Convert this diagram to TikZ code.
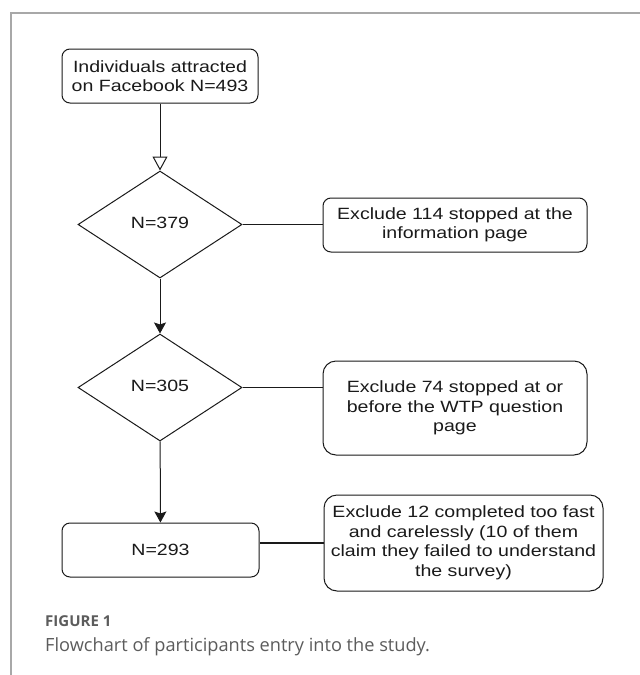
\documentclass[tikz,border=0pt]{standalone}
\usepackage{fontspec}
\usepackage{tikz}
\usetikzlibrary{shapes.geometric,arrows.meta}
\newfontfamily\chartfont[FakeStretch=1.2]{Liberation Sans}
\newfontfamily\capfont{Open Sans}
\definecolor{framegray}{HTML}{A8A8A8}
\definecolor{capgray}{HTML}{5C5C5C}
\definecolor{ink}{HTML}{1A1A1A}

\begin{document}
\begin{tikzpicture}[x=1pt,y=-1pt,
  box/.style={draw=ink,line width=1pt,rounded corners=8pt,align=center,inner sep=0pt,text=ink,
    font=\chartfont\fontsize{16.3}{19.5}\selectfont},
  bigbox/.style={box,rounded corners=13pt},
  test/.style={draw=ink,line width=1pt,diamond,inner sep=0pt,text=ink,
    minimum width=164pt,minimum height=107pt,font=\chartfont\fontsize{16.3}{19.5}\selectfont},
  link/.style={draw=ink,line width=1.8pt},
  flow/.style={draw=ink,line width=1pt,-{Stealth[width=12pt,length=11pt,inset=2pt]}}]

\useasboundingbox[fill=white] (0,0) rectangle (640,675);
\draw[framegray,line width=1.2pt] (640,13) -- (11,13) -- (11,675);

% main column
\node[box,minimum width=196pt,minimum height=54pt] (start) at (160,76) {Individuals attracted\\on Facebook N=493};
\node[test] (check1) at (160,224.5) {\raisebox{3.5pt}{N=379}};
\node[test] (check2) at (160,387.5) {\raisebox{3.5pt}{N=305}};
\node[box,minimum width=197pt,minimum height=54pt] (final) at (160.5,550) {N=293};

% exclusions
\node[box,minimum width=264pt,minimum height=54pt] (out1) at (455,225) {Exclude 114 stopped at the\\information page};
\node[bigbox,minimum width=264pt,minimum height=94pt] (out2) at (455,408) {Exclude 74 stopped at or\\before the WTP question\\page};
\node[bigbox,minimum width=279pt,minimum height=96pt] (out3) at (463.5,543) {Exclude 12 completed too fast\\and carelessly (10 of them\\claim they failed to understand\\the survey)};

\draw[draw=ink,line width=1pt,-{Triangle[open,width=15pt,length=14pt]}] (start) -- (check1);
\draw[flow] (check1) -- (check2);
\draw[flow] (check2) -- (final);

\draw[link] (check1.east) -- (check1.east -| out1.west);
\draw[link] (check2.east) -- (check2.east -| out2.west);
\draw[link] (out3.west) -- (out3.west -| final.east);

% caption
\node[anchor=base west,inner sep=0pt,text=capgray,font=\capfont\bfseries\fontsize{15}{17}\selectfont] (fig) at (45,626) {FIGURE 1};
\node[anchor=base west,inner sep=0pt,text=capgray,font=\capfont\fontsize{18.2}{21}\selectfont] (cap) at (45,651) {Flowchart of participants entry into the study.};

\end{tikzpicture}
\end{document}
